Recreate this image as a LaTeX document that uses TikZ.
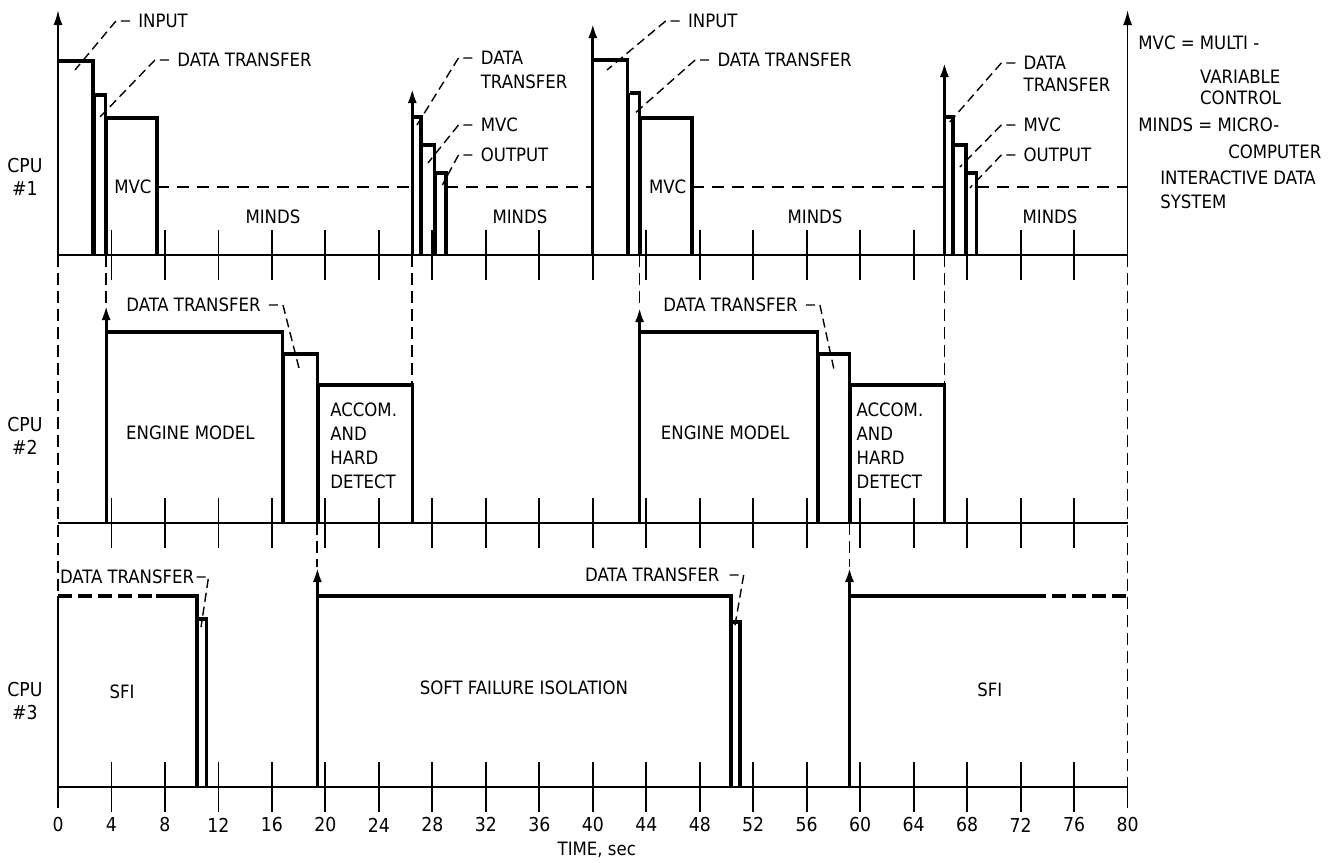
\documentclass[tikz,border=0pt]{standalone}
\usepackage{fontspec}
\setmainfont{DejaVu Sans Condensed}
\usepackage{tikz}
\usetikzlibrary{arrows.meta}

\tikzset{
  base/.style={line width=0.9pt},
  tick/.style={line width=0.9pt},
  edge/.style={line width=0.9pt},
  blk/.style={line width=1.8pt},
  axis/.style={line width=0.9pt, -{Latex[length=7.5pt, width=4.5pt]}},
  up/.style={line width=1.6pt, -{Latex[length=7.5pt, width=4.5pt]}},
  sync/.style={line width=0.9pt, dash pattern=on 6pt off 3pt},
  idle/.style={line width=0.9pt, dash pattern=on 6pt off 4pt},
  carry/.style={line width=1.8pt, dash pattern=on 7pt off 3pt},
  lead/.style={line width=0.7pt, dash pattern=on 4.5pt off 2.5pt},
  lbl/.style={inner sep=0pt, font=\fontsize{9.2}{12}\selectfont},
  cpulbl/.style={inner sep=0pt, align=center, font=\fontsize{9.6}{11.5}\selectfont},
  ticklbl/.style={inner sep=0pt, font=\fontsize{9.6}{11}\selectfont}
}

\begin{document}
\begin{tikzpicture}[x=6.685pt, y=-0.5pt]
  \useasboundingbox (-4.338,0) rectangle (94.99,863);

  % Axes and baselines
  \draw[axis] (0,255) -- (0,10);
  \draw[axis] (80,255) -- (80,10);
  \foreach \yb in {255,523,787} {
    \draw[base] (0,\yb) -- (80,\yb);
    \foreach \t in {4,8,...,76}
      \draw[tick] (\t,\yb-25) -- (\t,\yb+25);
  }

  % Repeat lines between the processors
  \draw[sync] (0,255) -- (0,596);
  \draw[sync] (80,255) -- (80,787);
  \draw[edge] (80,787) -- (80,808);
  \draw[sync] (3.6,255) -- (3.6,305);
  \draw[sync] (26.5,255) -- (26.5,385);
  \draw[sync] (19.4,523) -- (19.4,567);
  \draw[sync] (43.5,255) -- (43.5,307);
  \draw[sync] (66.3,255) -- (66.3,385);
  \draw[sync] (59.2,523) -- (59.2,567);

  % CPU 1
  \draw[blk] (0,61) -| (2.6,255);
  \draw[edge] (2.75,95) -- (2.75,255);
  \draw[blk] (2.75,95) -| (3.55,255);
  \draw[edge] (3.65,118) -- (3.65,255);
  \draw[blk] (3.65,118) -| (7.4,255);
  \draw[idle] (7.4,187) -- (26.5,187);
  \draw[up] (26.5,255) -- (26.5,88);
  \draw[blk] (26.5,117) -| (27.15,255);
  \draw[edge] (27.25,145) -- (27.25,255);
  \draw[blk] (27.25,145) -| (28.15,255);
  \draw[edge] (28.25,173) -- (28.25,255);
  \draw[blk] (28.25,173) -| (29.0,255);
  \draw[idle] (29.0,187) -- (40,187);
  \draw[up] (40,255) -- (40,23);
  \draw[blk] (40,60) -| (42.6,255);
  \draw[edge] (42.75,93) -- (42.75,255);
  \draw[blk] (42.75,93) -| (43.5,255);
  \draw[edge] (43.6,118) -- (43.6,255);
  \draw[blk] (43.6,118) -| (47.4,255);
  \draw[idle] (47.4,187) -- (66.3,187);
  \draw[up] (66.3,255) -- (66.3,62);
  \draw[blk] (66.3,117) -| (66.95,255);
  \draw[edge] (67.05,145) -- (67.05,255);
  \draw[blk] (67.05,145) -| (67.9,255);
  \draw[edge] (68.0,173) -- (68.0,255);
  \draw[blk] (68.0,173) -| (68.7,255);
  \draw[idle] (68.7,187) -- (80,187);

  % CPU 2
  \draw[up] (3.6,523) -- (3.6,305);
  \draw[blk] (3.6,332) -| (16.8,523);
  \draw[edge] (16.9,354) -- (16.9,523);
  \draw[blk] (16.9,354) -| (19.4,523);
  \draw[edge] (19.5,385) -- (19.5,523);
  \draw[blk] (19.5,385) -| (26.5,523);
  \draw[up] (43.5,523) -- (43.5,307);
  \draw[blk] (43.5,332) -| (56.8,523);
  \draw[edge] (56.9,354) -- (56.9,523);
  \draw[blk] (56.9,354) -| (59.2,523);
  \draw[edge] (59.3,385) -- (59.3,523);
  \draw[blk] (59.3,385) -| (66.3,523);

  % CPU 3
  \draw[edge] (0,596) -- (0,808);
  \draw[carry] (0,596) -- (7.3,596);
  \draw[blk] (7.3,596) -| (10.4,787);
  \draw[edge] (10.5,619) -- (10.5,787);
  \draw[blk] (10.5,619) -| (11.1,787);
  \draw[up] (19.4,787) -- (19.4,567);
  \draw[blk] (19.4,596) -| (50.35,787);
  \draw[edge] (50.45,622) -- (50.45,787);
  \draw[blk] (50.45,622) -| (51.0,787);
  \draw[up] (59.2,787) -- (59.2,567);
  \draw[blk] (59.2,596) -- (72.85,596);
  \draw[carry] (72.85,596) -- (80,596);

  % Processor names
  \node[cpulbl] (cpuone) at (-2.47,177) {CPU\\\#1};
  \node[cpulbl] (cputwo) at (-2.47,436) {CPU\\\#2};
  \node[cpulbl] (cputhree) at (-2.47,701) {CPU\\\#3};

  % Labels in CPU 1
  \node[lbl, anchor=west] (inA) at (5.98,21) {INPUT};
  \coordinate (inAend) at (1.27,70);
  \draw[lead] ([xshift=-4pt]inA.west) -- ([xshift=-11pt]inA.west) -- (inAend);
  \node[lbl, anchor=west] (dtA) at (8.9,60) {DATA TRANSFER};
  \coordinate (dtAend) at (3.14,117);
  \draw[lead] ([xshift=-4pt]dtA.west) -- ([xshift=-11pt]dtA.west) -- (dtAend);
  \node[lbl, anchor=west] (dtB) at (31.6,58) {DATA};
  \node[lbl, anchor=west] (dtBb) at (31.6,82) {TRANSFER};
  \coordinate (dtBend) at (26.85,125);
  \draw[lead] ([xshift=-4pt]dtB.west) -- ([xshift=-11pt]dtB.west) -- (dtBend);
  \node[lbl, anchor=west] (mvcB) at (31.6,125) {MVC};
  \coordinate (mvcBend) at (27.67,163);
  \draw[lead] ([xshift=-4pt]mvcB.west) -- ([xshift=-11pt]mvcB.west) -- (mvcBend);
  \node[lbl, anchor=west] (outB) at (31.6,155) {OUTPUT};
  \coordinate (outBend) at (28.75,185);
  \draw[lead] ([xshift=-4pt]outB.west) -- ([xshift=-11pt]outB.west) -- (outBend);
  \node[lbl, anchor=west] (inB) at (47.1,21) {INPUT};
  \coordinate (inBend) at (41.06,70);
  \draw[lead] ([xshift=-4pt]inB.west) -- ([xshift=-11pt]inB.west) -- (inBend);
  \node[lbl, anchor=west] (dtC) at (49.3,60) {DATA TRANSFER};
  \coordinate (dtCend) at (43.0,115);
  \draw[lead] ([xshift=-4pt]dtC.west) -- ([xshift=-11pt]dtC.west) -- (dtCend);
  \node[lbl, anchor=west] (dtD) at (72.2,63) {DATA};
  \node[lbl, anchor=west] (dtDb) at (72.2,85) {TRANSFER};
  \coordinate (dtDend) at (66.7,122);
  \draw[lead] ([xshift=-4pt]dtD.west) -- ([xshift=-11pt]dtD.west) -- (dtDend);
  \node[lbl, anchor=west] (mvcD) at (72.2,125) {MVC};
  \coordinate (mvcDend) at (67.46,167);
  \draw[lead] ([xshift=-4pt]mvcD.west) -- ([xshift=-11pt]mvcD.west) -- (mvcDend);
  \node[lbl, anchor=west] (outD) at (72.2,155) {OUTPUT};
  \coordinate (outDend) at (68.2,188);
  \draw[lead] ([xshift=-4pt]outD.west) -- ([xshift=-11pt]outD.west) -- (outDend);
  \node[lbl] (mvcA) at (5.6,187) {MVC};
  \node[lbl] (mvcC) at (45.6,187) {MVC};
  \node[lbl] (mindsA) at (16.08,217) {MINDS};
  \node[lbl] (mindsB) at (34.55,217) {MINDS};
  \node[lbl] (mindsC) at (56.62,217) {MINDS};
  \node[lbl] (mindsD) at (74.2,217) {MINDS};

  % Labels in CPU 2
  \node[lbl, anchor=west] (dtE) at (5.09,305) {DATA TRANSFER};
  \coordinate (dtEend) at (18.1,372);
  \draw[lead] ([xshift=4pt]dtE.east) -- ([xshift=11pt]dtE.east) -- (dtEend);
  \node[lbl, anchor=west] (dtF) at (45.25,305) {DATA TRANSFER};
  \coordinate (dtFend) at (58.1,373);
  \draw[lead] ([xshift=4pt]dtF.east) -- ([xshift=11pt]dtF.east) -- (dtFend);
  \node[lbl] (engA) at (9.9,433) {ENGINE MODEL};
  \node[lbl] (engB) at (49.9,433) {ENGINE MODEL};
  \node[lbl, anchor=west, align=left] (accA) at (20.34,446) {ACCOM.\\AND\\HARD\\DETECT};
  \node[lbl, anchor=west, align=left] (accB) at (59.7,446) {ACCOM.\\AND\\HARD\\DETECT};

  % Labels in CPU 3
  \node[lbl, anchor=west] (dtG) at (0.12,577) {DATA TRANSFER};
  \coordinate (dtGend) at (10.7,627);
  \draw[lead] ([xshift=1pt]dtG.east) -- ([xshift=7pt]dtG.east) -- (dtGend);
  \node[lbl, anchor=west] (dtH) at (39.4,575) {DATA TRANSFER};
  \coordinate (dtHend) at (50.6,628);
  \draw[lead] ([xshift=5pt]dtH.east) -- ([xshift=12pt]dtH.east) -- (dtHend);
  \node[lbl] (sfiA) at (4.79,692) {SFI};
  \node[lbl] (soft) at (34.85,688) {SOFT FAILURE ISOLATION};
  \node[lbl] (sfiB) at (69.7,690) {SFI};

  % Time axis
  \foreach \t in {0,4,...,80}
    \node[ticklbl] (tl\t) at (\t,825) {\t};
  \node[lbl] (timelbl) at (40.3,850) {TIME, sec};

  % Legend
  \node[lbl, anchor=west] (mvcdef) at (80.78,43) {MVC = MULTI -};
  \node[lbl, anchor=west] (mvcdefb) at (85.4,77) {VARIABLE};
  \node[lbl, anchor=west] (mvcdefc) at (85.4,98) {CONTROL};
  \node[lbl, anchor=west] (mindsdef) at (80.78,125) {MINDS = MICRO-};
  \node[lbl, anchor=west] (mindsdefb) at (87.5,152) {COMPUTER};
  \node[lbl, anchor=west] (mindsdefc) at (82.42,178) {INTERACTIVE DATA};
  \node[lbl, anchor=west] (mindsdefd) at (82.42,202) {SYSTEM};
\end{tikzpicture}
\end{document}
